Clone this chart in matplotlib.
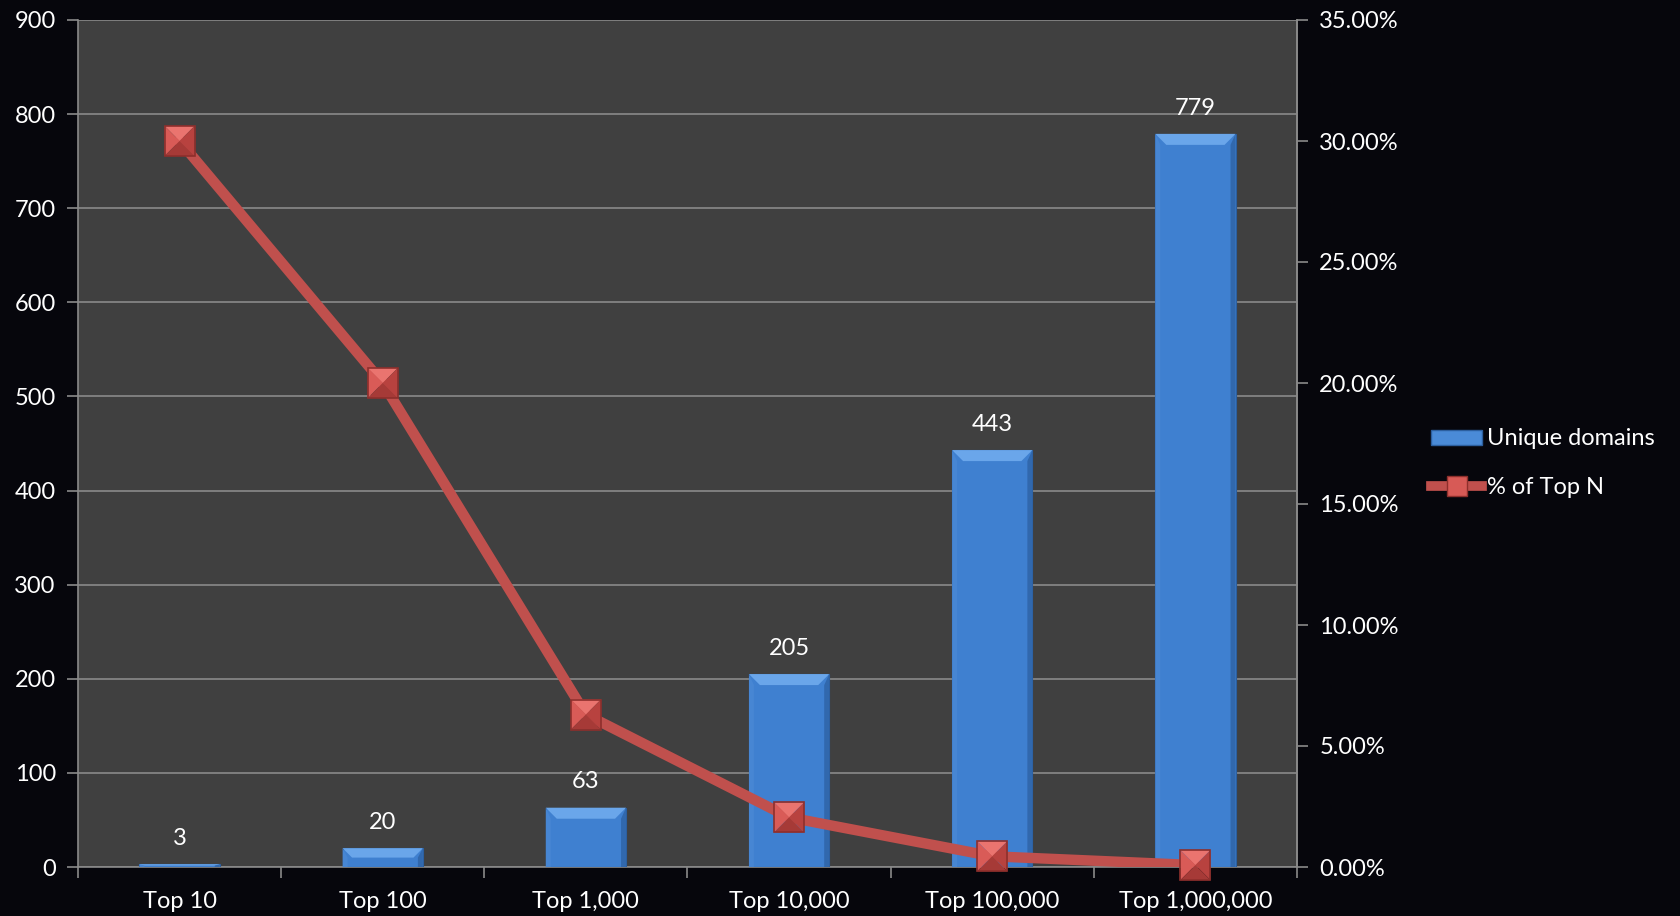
import matplotlib
matplotlib.use("Agg")
import matplotlib.pyplot as plt
from matplotlib.patches import Polygon, Patch
from matplotlib.lines import Line2D
from matplotlib.transforms import IdentityTransform
from matplotlib.ticker import FuncFormatter, MultipleLocator

categories = ["Top 10", "Top 100", "Top 1,000", "Top 10,000", "Top 100,000", "Top 1,000,000"]
unique_domains = [3, 20, 63, 205, 443, 779]
pct_of_top_n = [30.0, 20.0, 6.3, 2.05, 0.443, 0.0779]

plt.rcParams['font.family'] = ['Lato', 'DejaVu Sans']
W, H, DPI = 1681, 916, 100
FS = 17
fig = plt.figure(figsize=(W / DPI, H / DPI), dpi=DPI, facecolor="#06060c")
ax = fig.add_axes([78 / W, 1 - 867 / H, (1297 - 78) / W, (867 - 20) / H])
ax.set_facecolor("#404040")

x = list(range(len(categories)))
bars = ax.bar(x, unique_domains, width=0.395, color="#3f80d0", edgecolor="#2c5f9f",
              linewidth=0.8, zorder=3)
ax.set_xlim(-0.5, len(categories) - 0.5)
ax.set_ylim(0, 900)
ax.yaxis.set_major_locator(MultipleLocator(100))
ax.grid(axis="y", color="#8a8a8a", linewidth=1.2, zorder=0)
ax.set_axisbelow(True)

ax.set_xticks([i + 0.5 for i in x[:-1]] + [-0.5, len(categories) - 0.5])
ax.set_xticklabels([])
ax.set_xticks(x, minor=True)
ax.set_xticklabels(categories, minor=True)
ax.tick_params(axis="x", which="minor", length=0, pad=17, labelsize=FS, labelcolor="white")
ax.tick_params(axis="x", which="major", length=8, color="#8a8a8a", width=1.2)
ax.tick_params(axis="y", length=8, color="#8a8a8a", width=1.2, pad=8,
               labelsize=FS, labelcolor="white")
ax.spines["top"].set_visible(False)
for s in ["left", "bottom", "right"]:
    ax.spines[s].set_color("#8a8a8a")
    ax.spines[s].set_linewidth(1.2)

for rect, v in zip(bars, unique_domains):
    ax.annotate(str(v), (rect.get_x() + rect.get_width() / 2, rect.get_height()),
                xytext=(0, 11), textcoords="offset points", ha="center", va="bottom",
                color="white", fontsize=FS)

ax2 = ax.twinx()
ax2.set_ylim(0, 35)
ax2.yaxis.set_major_locator(MultipleLocator(5))
ax2.yaxis.set_major_formatter(FuncFormatter(lambda v, p: f"{v:.2f}%"))
ax2.tick_params(axis="y", length=8, color="#8a8a8a", width=1.2, pad=8,
                labelsize=FS, labelcolor="white")
for s in ["top", "left", "bottom"]:
    ax2.spines[s].set_visible(False)
ax2.spines["right"].set_color("#8a8a8a")
ax2.spines["right"].set_linewidth(1.2)
ax2.plot(x, pct_of_top_n, color="#c0504d", linewidth=7.5, solid_capstyle="round", zorder=4)

fig.canvas.draw()
ident = IdentityTransform()

# bevel on bars
for rect in bars:
    x0, y0 = rect.get_x(), rect.get_y()
    (px0, py0) = ax.transData.transform((x0, y0))
    (px1, py1) = ax.transData.transform((x0 + rect.get_width(), y0 + rect.get_height()))
    b = min(11, (py1 - py0) / 2, (px1 - px0) / 2)
    bs = min(5, (px1 - px0) / 2)
    pieces = [
        ([(px0, py1), (px1, py1), (px1 - b, py1 - b), (px0 + b, py1 - b)], "#6aa6ea"),
        ([(px0, py0), (px0, py1), (px0 + bs, py1 - b), (px0 + bs, py0)], "#4786d3"),
        ([(px1, py0), (px1, py1), (px1 - bs, py1 - b), (px1 - bs, py0)], "#3168ad"),
    ]
    for pts, c in pieces:
        ax.add_patch(Polygon(pts, closed=True, facecolor=c, edgecolor="none",
                             transform=ident, zorder=3.5, clip_on=False))

# pyramid markers
def pyramid(axis, cx, cy, s=15):
    tl = (cx - s, cy + s); tr = (cx + s, cy + s)
    bl = (cx - s, cy - s); br = (cx + s, cy - s)
    c = (cx, cy)
    tris = [([tl, tr, c], "#ea746f"), ([tl, bl, c], "#d95b57"),
            ([tr, br, c], "#b8423f"), ([bl, br, c], "#a63a37")]
    for pts, col in tris:
        axis.add_patch(Polygon(pts, closed=True, facecolor=col, edgecolor="none",
                               transform=ident, zorder=6, clip_on=False))
    axis.add_patch(Polygon([tl, tr, br, bl], closed=True, fill=False,
                           edgecolor="#8e2f2c", linewidth=1.2, transform=ident,
                           zorder=6.5, clip_on=False))

for xi, yi in zip(x, pct_of_top_n):
    cx, cy = ax2.transData.transform((xi, yi))
    pyramid(ax2, cx, cy)

# legend
handles = [Patch(facecolor="#4a8bd8", edgecolor="#2c5f9f"),
           Line2D([0], [0], color="#c0504d", linewidth=7, marker="s", markersize=15,
                  markerfacecolor="#d75a56", markeredgecolor="#8e2f2c")]
leg = fig.legend(handles, ["Unique domains", "% of Top N"], loc="center left",
                 bbox_to_anchor=(1410 / W, 1 - 463 / H), frameon=False,
                 fontsize=FS, labelcolor="white", handlelength=2.15, handleheight=0.6,
                 handletextpad=0.2, labelspacing=1.15)

fig.savefig("out.png", dpi=DPI, facecolor=fig.get_facecolor())
